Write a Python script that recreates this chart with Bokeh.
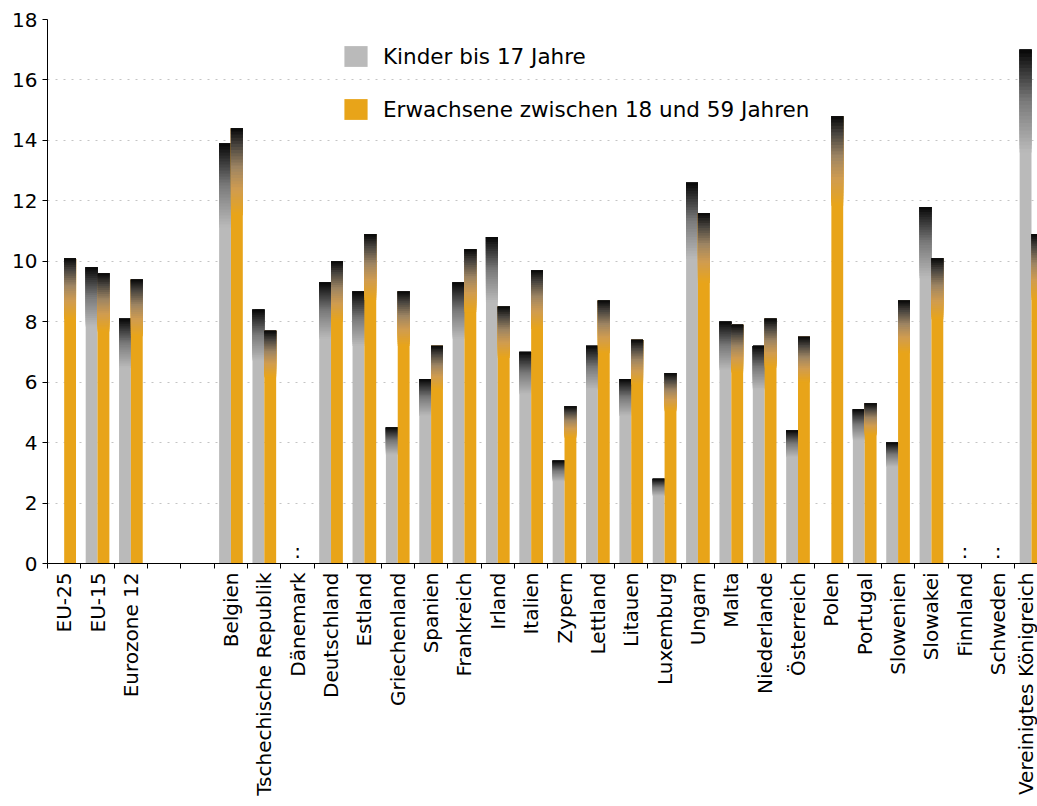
import math
from bokeh.plotting import figure
from bokeh.models import Range1d, FixedTicker, ColumnDataSource, Legend, LegendItem
from bokeh.embed import file_html
from bokeh.resources import INLINE
from bokeh.core.properties import value

# ---------------- data ----------------
categories = ["EU-25", "EU-15", "Eurozone 12", "", "",
              "Belgien", "Tschechische Republik", "Dänemark", "Deutschland", "Estland",
              "Griechenland", "Spanien", "Frankreich", "Irland", "Italien",
              "Zypern", "Lettland", "Litauen", "Luxemburg", "Ungarn",
              "Malta", "Niederlande", "Österreich", "Polen", "Portugal",
              "Slowenien", "Slowakei", "Finnland", "Schweden", "Vereinigtes Königreich"]
kinder = [None, 9.8, 8.1, None, None,
          13.9, 8.4, None, 9.3, 9.0,
          4.5, 6.1, 9.3, 10.8, 7.0,
          3.4, 7.2, 6.1, 2.8, 12.6,
          8.0, 7.2, 4.4, None, 5.1,
          4.0, 11.8, None, None, 17.0]
erwachsene = [10.1, 9.6, 9.4, None, None,
              14.4, 7.7, None, 10.0, 10.9,
              9.0, 7.2, 10.4, 8.5, 9.7,
              5.2, 8.7, 7.4, 6.3, 11.6,
              7.9, 8.1, 7.5, 14.8, 5.3,
              8.7, 10.1, None, None, 10.9]
series_labels = ["Kinder bis 17 Jahre", "Erwachsene zwischen 18 und 59 Jahren"]
y_ticks = [0, 2, 4, 6, 8, 10, 12, 14, 16, 18]

# ---------------- style ----------------
FONT = "DejaVu Sans"
GREY = "#bababa"
ORANGE = "#e8a419"
grey_stops = [(0.0, (186, 186, 186)), (0.5, (122, 122, 122)), (1.0, (6, 6, 6))]
orange_stops = [(0.0, (232, 164, 25)), (0.3, (208, 156, 80)), (0.55, (158, 133, 98)),
                (0.8, (74, 70, 64)), (1.0, (6, 6, 6))]
N_SEG = 28
SOLID = 0.8
BAR_W = 0.355


def interp(stops, t):
    for (t0, c0), (t1, c1) in zip(stops[:-1], stops[1:]):
        if t <= t1:
            f = (t - t0) / (t1 - t0)
            r, g, b = (int(round(a + (bb - a) * f)) for a, bb in zip(c0, c1))
            return "#%02x%02x%02x" % (r, g, b)
    return "#%02x%02x%02x" % stops[-1][1]


def build(values, side, stops):
    base = dict(left=[], right=[], bottom=[], top=[])
    grad = dict(left=[], right=[], bottom=[], top=[], color=[])
    for i, v in enumerate(values):
        if v is None:
            continue
        l, r = (i - BAR_W, i) if side == "left" else (i, i + BAR_W)
        base["left"].append(l); base["right"].append(r)
        base["bottom"].append(0); base["top"].append(v)
        for k in range(N_SEG):
            b = v * (SOLID + (1 - SOLID) * k / N_SEG)
            grad["left"].append(l); grad["right"].append(r)
            grad["bottom"].append(b); grad["top"].append(v)
            grad["color"].append(interp(stops, (k + 0.5) / N_SEG))
    return base, grad


p = figure(width=1037, height=806,
           x_range=Range1d(-0.5, 29.18), y_range=Range1d(0, 18),
           output_backend="svg", toolbar_location=None,
           min_border_left=47, min_border_right=0, min_border_top=19, min_border_bottom=243)
p.outline_line_color = None
p.background_fill_color = "white"

renderers = []
for vals, side, stops, col in [(kinder, "left", grey_stops, GREY),
                               (erwachsene, "right", orange_stops, ORANGE)]:
    base, grad = build(vals, side, stops)
    rb = p.quad(left="left", right="right", bottom="bottom", top="top",
                source=ColumnDataSource(base), fill_color=col, line_color=None)
    p.quad(left="left", right="right", bottom="bottom", top="top",
           source=ColumnDataSource(grad), fill_color="color", line_color=None)
    renderers.append(rb)

# missing-value markers ":"
miss_x = [i for i, c in enumerate(categories)
          if c and kinder[i] is None and erwachsene[i] is None]
p.text(x=miss_x, y=[0] * len(miss_x), text=[":"] * len(miss_x),
       text_font=value(FONT), text_font_size="20px", text_color="black",
       text_align="center", text_baseline="bottom", y_offset=-1)

# x axis
label_pos = [i for i, c in enumerate(categories) if c]
p.xaxis.ticker = FixedTicker(ticks=label_pos,
                             minor_ticks=[i - 0.5 for i in range(len(categories))])
p.xaxis.major_label_overrides = {i: categories[i] for i in label_pos}
p.xaxis.major_label_orientation = math.pi / 2
p.xaxis.major_tick_out = 0
p.xaxis.major_tick_in = 0
p.xaxis.minor_tick_out = 5
p.xaxis.minor_tick_in = 0
p.xaxis.minor_tick_line_color = "black"
p.xaxis.major_label_standoff = 4
p.xaxis.major_label_text_font = FONT
p.xaxis.major_label_text_font_size = "20px"
p.xaxis.major_label_text_color = "black"
p.xaxis.axis_line_color = "black"

# y axis
p.yaxis.ticker = FixedTicker(ticks=y_ticks, minor_ticks=[])
p.yaxis.major_tick_out = 5
p.yaxis.major_tick_in = 0
p.yaxis.major_tick_line_color = "black"
p.yaxis.major_label_standoff = 5
p.yaxis.major_label_text_font = FONT
p.yaxis.major_label_text_font_size = "20px"
p.yaxis.major_label_text_color = "black"
p.yaxis.axis_line_color = "black"

p.xgrid.visible = False
p.ygrid.grid_line_color = "#c4c4c4"
p.ygrid.grid_line_dash = "2 6"
p.ygrid.grid_line_width = 1

legend = Legend(items=[LegendItem(label=series_labels[0], renderers=[renderers[0]]),
                       LegendItem(label=series_labels[1], renderers=[renderers[1]])],
                location=(294, 441), orientation="vertical",
                glyph_width=29, glyph_height=26, label_height=26,
                label_standoff=13, spacing=27, padding=0, margin=0,
                border_line_color=None, background_fill_alpha=0,
                label_text_font=FONT, label_text_font_size="21.5px",
                label_text_color="black")
p.add_layout(legend)

open("out.html", "w").write(file_html(p, INLINE))
